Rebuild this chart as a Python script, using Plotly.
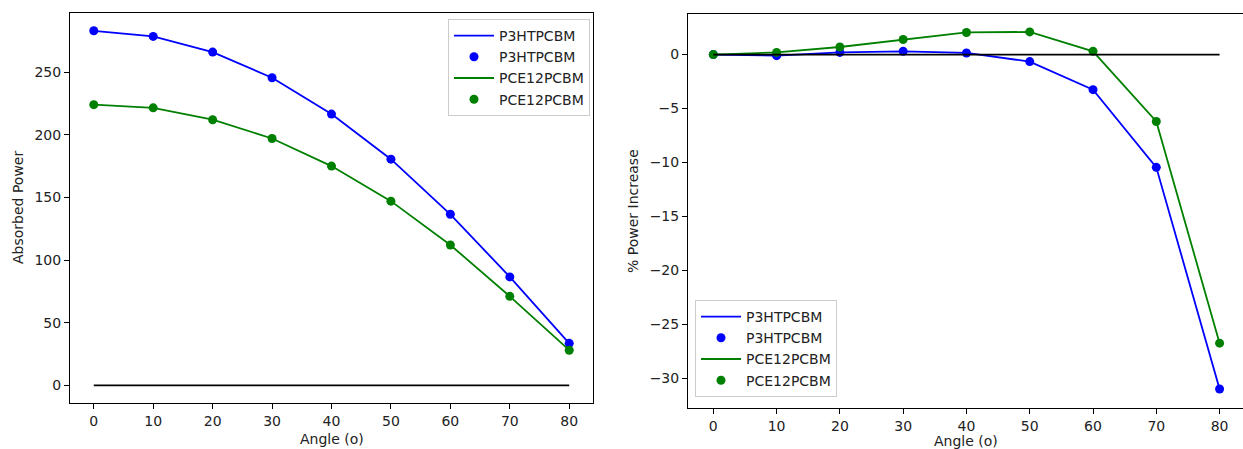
import plotly.graph_objects as go

angles = [0, 10, 20, 30, 40, 50, 60, 70, 80]
p3ht_abs = [283, 278.5, 266, 245.5, 216.5, 180.5, 136.5, 86.5, 33.5]
pce12_abs = [224, 221.5, 212, 197, 175, 147, 112, 71, 28]
p3ht_pct = [0, -0.1, 0.2, 0.3, 0.15, -0.65, -3.25, -10.45, -31.0]
pce12_pct = [0, 0.2, 0.7, 1.4, 2.05, 2.1, 0.3, -6.2, -26.75]
zero_line = [0, 0]
zero_x = [0, 80]

BLUE = "#0000ff"
GREEN = "#008000"
FONT = "DejaVu Sans"
FS = 14

fig = go.Figure()

def add_series(x, y, color, name, xa, ya, leg):
    fig.add_trace(go.Scatter(x=x, y=y, mode="lines", line=dict(color=color, width=1.8),
                             name=name, xaxis=xa, yaxis=ya, legend=leg))
    fig.add_trace(go.Scatter(x=x, y=y, mode="markers", marker=dict(color=color, size=9),
                             name=name, xaxis=xa, yaxis=ya, legend=leg))

# left panel
add_series(angles, p3ht_abs, BLUE, "P3HTPCBM", "x", "y", "legend")
add_series(angles, pce12_abs, GREEN, "PCE12PCBM", "x", "y", "legend")
fig.add_trace(go.Scatter(x=zero_x, y=zero_line, mode="lines", line=dict(color="black", width=1.8),
                         showlegend=False, xaxis="x", yaxis="y"))

# right panel
add_series(angles, p3ht_pct, BLUE, "P3HTPCBM", "x2", "y2", "legend2")
add_series(angles, pce12_pct, GREEN, "PCE12PCBM", "x2", "y2", "legend2")
fig.add_trace(go.Scatter(x=zero_x, y=zero_line, mode="lines", line=dict(color="black", width=1.8),
                         showlegend=False, xaxis="x2", yaxis="y2"))

W, H = 1243, 449

def px(xp):
    return xp / W

def py(yp):
    return (H - yp) / H

tick_common = dict(ticks="outside", ticklen=5, tickwidth=1, tickcolor="black",
                   showgrid=False, zeroline=False, showline=True, linecolor="black",
                   linewidth=1, tickfont=dict(family=FONT, size=FS, color="#222"))

leg_common = dict(bgcolor="rgba(255,255,255,0.8)", bordercolor="#cccccc", borderwidth=1,
                  font=dict(family=FONT, size=FS, color="#222"), tracegroupgap=0,
                  itemwidth=40)

fig.update_layout(
    width=W, height=H,
    margin=dict(l=0, r=0, t=0, b=0),
    paper_bgcolor="white", plot_bgcolor="white",
    font=dict(family=FONT, size=FS, color="#222"),
    xaxis=dict(domain=[px(70), px(593)], range=[-4, 84], anchor="y", mirror=True,
               tickvals=angles, **tick_common),
    yaxis=dict(domain=[py(403), py(13)], range=[-14.15, 297.2], anchor="x", mirror=True,
               tickvals=[0, 50, 100, 150, 200, 250], **tick_common),
    xaxis2=dict(domain=[px(688), 1.0], range=[-4, 83.7], anchor="y2", mirror=True,
                tickvals=angles, **tick_common),
    yaxis2=dict(domain=[py(408), py(14)], range=[-32.76, 3.76], anchor="x2", mirror=False,
                tickvals=[0, -5, -10, -15, -20, -25, -30], **tick_common),
    legend=dict(x=px(590), y=py(19), xanchor="right", yanchor="top", **leg_common),
    legend2=dict(x=px(695), y=py(397), xanchor="left", yanchor="bottom", **leg_common),
    showlegend=True,
)

annots = [
    dict(text="Angle (o)", x=px(332), y=py(439), xref="paper", yref="paper",
         showarrow=False, xanchor="center", yanchor="middle"),
    dict(text="Absorbed Power", x=px(18), y=py(208), xref="paper", yref="paper",
         showarrow=False, textangle=-90, xanchor="center", yanchor="middle"),
    dict(text="Angle (o)", x=px(966), y=py(441), xref="paper", yref="paper",
         showarrow=False, xanchor="center", yanchor="middle"),
    dict(text="% Power Increase", x=px(633), y=py(211), xref="paper", yref="paper",
         showarrow=False, textangle=-90, xanchor="center", yanchor="middle"),
]
for a in annots:
    a["font"] = dict(family=FONT, size=FS, color="#222")
fig.update_layout(annotations=annots)

fig.write_html("out.html", config={"displayModeBar": False},
               post_script="document.body.style.margin='0';document.body.style.overflow='hidden';")
